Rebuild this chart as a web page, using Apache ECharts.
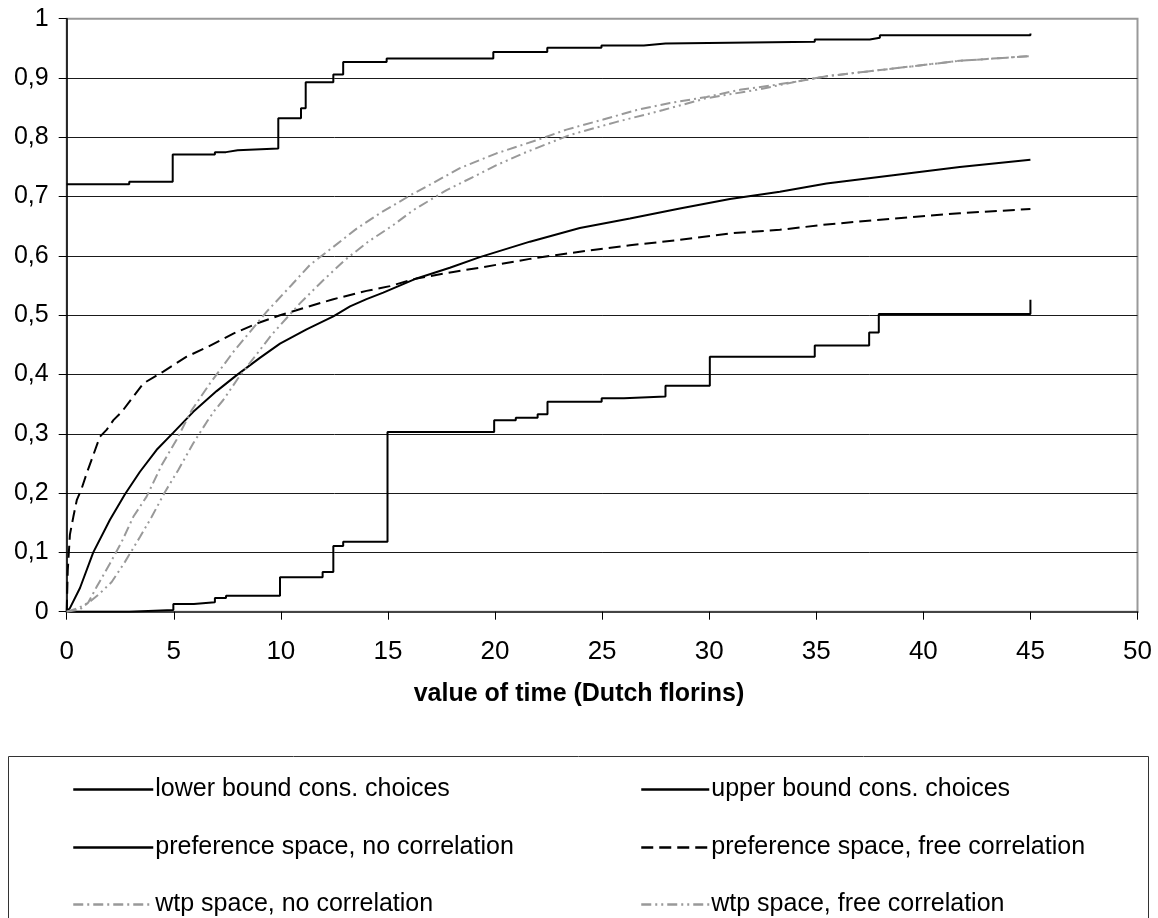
<!DOCTYPE html>
<html>
<head>
<meta charset="utf-8">
<script src="https://cdn.jsdelivr.net/npm/echarts@6/dist/echarts.min.js"></script>
<style>
html,body{margin:0;padding:0;background:#fff;}
#chart{width:1158px;height:918px;}
</style>
</head>
<body>
<div id="chart"></div>
<script>
// x values: value of time (Dutch florins); y values: cumulative share
const seriesNames = [
  'lower bound cons. choices',
  'upper bound cons. choices',
  'preference space, no correlation',
  'preference space, free correlation',
  'wtp space, no correlation',
  'wtp space, free correlation'
];
const xTicks = [0,5,10,15,20,25,30,35,40,45,50];
const yTicks = [0,0.1,0.2,0.3,0.4,0.5,0.6,0.7,0.8,0.9,1];

const lowerBound = [[0,0],[2.92,0.003],[4.98,0.013],[5.94,0.016],[6.92,0.023],[7.44,0.027],[9.96,0.058],[11.95,0.067],[12.45,0.111],[12.91,0.118],[14.98,0.303],[19.96,0.323],[20.97,0.327],[21.99,0.333],[22.45,0.354],[24.98,0.36],[26.02,0.363],[27.96,0.381],[30.03,0.43],[34.93,0.449],[37.47,0.471],[37.92,0.502],[45,0.526]];

const upperBound = [[0,0.721],[2.92,0.725],[4.95,0.771],[6.92,0.775],[7.44,0.778],[7.98,0.781],[9.88,0.832],[10.94,0.849],[11.16,0.893],[12.45,0.906],[12.91,0.927],[14.94,0.933],[19.92,0.944],[22.44,0.951],[24.97,0.955],[26.95,0.958],[27.96,0.961],[34.93,0.965],[37.5,0.968],[37.97,0.972],[45,0.975]];

const prefNoCorr = [[0,0],[0.15,0.006],[0.62,0.04],[1.24,0.1],[2.02,0.155],[2.72,0.198],[3.42,0.236],[4.2,0.273],[4.98,0.302],[5.91,0.337],[7.0,0.372],[7.94,0.399],[9.02,0.428],[9.96,0.452],[11.2,0.476],[12.45,0.498],[13.23,0.515],[14.0,0.527],[14.78,0.538],[16.34,0.562],[17.89,0.58],[19.29,0.598],[21.63,0.624],[23.96,0.647],[26.3,0.663],[28.63,0.68],[30.97,0.696],[33.3,0.708],[35.48,0.722],[38.59,0.736],[41.7,0.75],[45,0.762]];

const prefFreeCorr = [[0,0],[0.05,0.07],[0.15,0.13],[0.31,0.16],[0.47,0.188],[0.7,0.208],[0.93,0.233],[1.24,0.264],[1.55,0.295],[1.87,0.307],[2.18,0.323],[2.57,0.337],[2.95,0.355],[3.58,0.385],[4.51,0.405],[5.6,0.43],[6.61,0.447],[7.78,0.469],[8.87,0.486],[9.96,0.5],[11.05,0.512],[12.45,0.527],[14.0,0.541],[15.09,0.549],[16.34,0.562],[18.05,0.573],[19.29,0.58],[21.63,0.595],[23.96,0.607],[26.3,0.618],[28.63,0.627],[30.97,0.638],[33.3,0.644],[35.48,0.653],[38.59,0.663],[41.7,0.672],[45,0.679]];

const wtpNoCorr = [[0,0],[0.62,0.004],[1.0,0.015],[1.4,0.042],[2.0,0.08],[2.57,0.118],[3.11,0.16],[3.73,0.194],[4.43,0.247],[5.13,0.29],[5.84,0.34],[6.69,0.385],[7.78,0.438],[8.56,0.472],[9.34,0.506],[10.5,0.551],[11.36,0.585],[12.37,0.613],[13.54,0.646],[14.63,0.672],[16.18,0.705],[16.96,0.72],[18.36,0.748],[20.07,0.773],[21.94,0.795],[23.34,0.813],[25.05,0.83],[26.61,0.846],[28.17,0.858],[29.88,0.868],[31.43,0.88],[32.99,0.888],[34.08,0.894],[35.48,0.903],[38.59,0.916],[41.7,0.929],[45,0.937]];

const wtpFreeCorr = [[0,0],[0.54,0.006],[1.09,0.017],[1.55,0.031],[2.1,0.05],[2.72,0.084],[3.42,0.126],[3.97,0.16],[4.59,0.202],[5.21,0.239],[5.91,0.284],[6.54,0.32],[6.92,0.34],[7.31,0.357],[8.01,0.394],[9.57,0.467],[10.89,0.52],[11.98,0.559],[12.99,0.593],[14.08,0.624],[15.25,0.652],[16.18,0.677],[17.74,0.711],[19.14,0.736],[20.07,0.753],[21.32,0.773],[23.5,0.804],[25.68,0.826],[27.85,0.846],[29.88,0.866],[32.21,0.88],[34.08,0.894],[35.48,0.903],[38.59,0.916],[41.7,0.929],[45,0.937]];

const FONT = '"Liberation Sans", Arial, sans-serif';
const chart = echarts.init(document.getElementById('chart'), null, {renderer:'canvas'});

function lineSeries(name, data, color, type, step) {
  return {
    name: name, type: 'line', data: data, step: step || false,
    symbol: 'none', showSymbol: false, smooth: false, animation: false,
    lineStyle: {color: color, width: 2, type: type},
    itemStyle: {color: color},
    emphasis: {disabled: true}
  };
}

const splitColors = yTicks.map((v, i) => i === yTicks.length - 1 ? '#999999' : '#1a1a1a');

// legend layout: [series index, left, top, itemWidth]
const legendSlots = [
  [0, 72, 777, 80], [1, 640, 777, 68],
  [2, 72, 835, 80], [3, 640, 835, 68],
  [4, 72, 892, 80], [5, 640, 892, 68]
];
const legends = legendSlots.map(s => ({
  left: s[1], top: s[2], itemWidth: s[3], itemHeight: 20, padding: 0,
  selectedMode: false, orient: 'horizontal',
  itemStyle: {opacity: 0},
  lineStyle: {width: 2.5},
  textStyle: {fontSize: 25, fontFamily: FONT, color: '#000', lineHeight: 20, padding: [0, 0, 0, -3]},
  data: [seriesNames[s[0]]]
}));

chart.setOption({
  animation: false,
  backgroundColor: '#fff',
  title: {
    text: 'value of time (Dutch florins)', left: 'center', top: 677,
    textStyle: {fontSize: 25, fontWeight: 'bold', fontFamily: FONT, color: '#000'}
  },
  grid: {left: 66.7, right: 20.5, top: 18.7, bottom: 306.3, show: true, borderColor: '#999999', borderWidth: 2, backgroundColor: 'transparent'},
  xAxis: {
    type: 'value', min: 0, max: 50, interval: 5,
    axisLine: {show: true, lineStyle: {color: '#444', width: 2}},
    axisTick: {show: true, length: 8, lineStyle: {color: '#000', width: 1}},
    axisLabel: {fontSize: 26, fontFamily: FONT, color: '#000', margin: 27,
      formatter: v => xTicks.indexOf(v) >= 0 ? String(v) : ''},
    splitLine: {show: false}
  },
  yAxis: {
    type: 'value', min: 0, max: 1, interval: 0.1,
    axisLine: {show: true, lineStyle: {color: '#000', width: 1.5}},
    axisTick: {show: true, length: 8, lineStyle: {color: '#000', width: 1}},
    axisLabel: {fontSize: 25, fontFamily: FONT, color: '#000', margin: 18,
      formatter: v => String(Math.round(v * 10) / 10).replace('.', ',')},
    splitLine: {show: true, lineStyle: {color: splitColors, width: 1}}
  },
  legend: legends,
  graphic: [{
    type: 'rect', silent: true, z: -1,
    shape: {x: 8.5, y: 756.5, width: 1140, height: 200},
    style: {fill: '#fff', stroke: '#333', lineWidth: 1}
  }],
  series: [
    lineSeries(seriesNames[0], lowerBound, '#000', 'solid', 'end'),
    lineSeries(seriesNames[1], upperBound, '#000', 'solid', 'end'),
    lineSeries(seriesNames[2], prefNoCorr, '#000', 'solid'),
    lineSeries(seriesNames[3], prefFreeCorr, '#000', [12, 6]),
    lineSeries(seriesNames[4], wtpNoCorr, '#999999', [10, 4, 2, 4]),
    lineSeries(seriesNames[5], wtpFreeCorr, '#999999', [10, 4, 2, 4, 2, 4])
  ]
});
</script>
</body>
</html>
